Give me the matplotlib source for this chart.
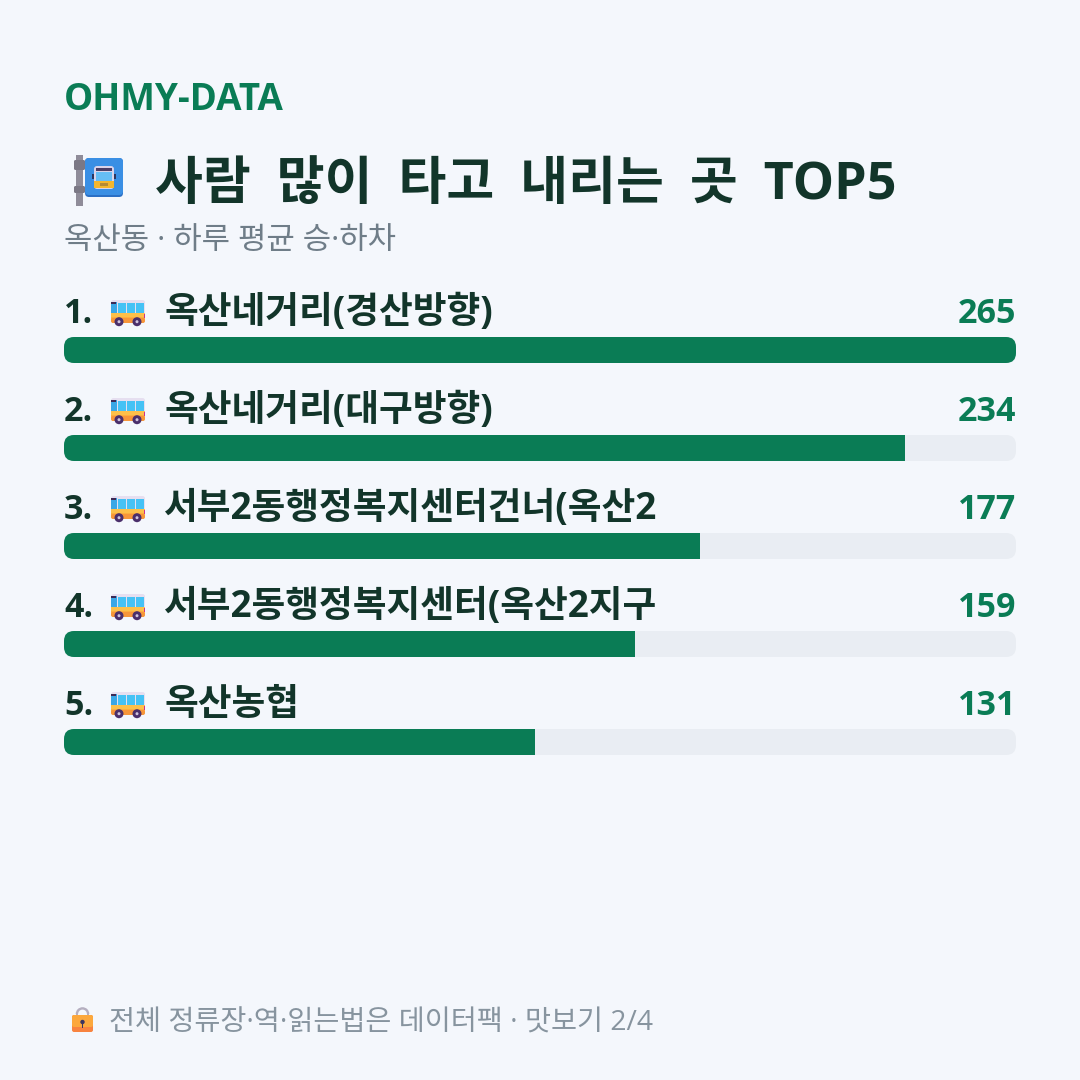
import matplotlib
matplotlib.use("Agg")
import matplotlib.pyplot as plt
from matplotlib.patches import FancyBboxPatch, Circle, Rectangle, Wedge

# data
ranks = ["1.", "2.", "3.", "4.", "5."]
stops = [
    "옥산네거리(경산방향)",
    "옥산네거리(대구방향)",
    "서부2동행정복지센터건너(옥산2",
    "서부2동행정복지센터(옥산2지구",
    "옥산농협",
]
boardings = [265, 234, 177, 159, 131]

brand = "OHMY-DATA"
title = "사람 많이 타고 내리는 곳 TOP5"
subtitle = "옥산동 · 하루 평균 승·하차"
footer = "전체 정류장·역·읽는법은 데이터팩 · 맛보기 2/4"

BG = "#f4f7fc"
GREEN = "#0a7c55"
DARK = "#12352a"
TRACK = "#e9edf3"
GREY = "#6f7d88"
FOOT = "#87949f"
FONTS = ["Open Sans", "Noto Sans CJK KR", "DejaVu Sans"]

plt.rcParams["font.family"] = FONTS


def px(size):
    # font size given in pixels at dpi 100
    return size * 0.72


def rect(ax, x, y, w, h, color, z=5):
    ax.add_patch(Rectangle((x, y), w, h, fc=color, ec="none", zorder=z))


def rbox(ax, x, y, w, h, r, color, z=3):
    p = FancyBboxPatch((x + r, y + r), w - 2 * r, h - 2 * r,
                       boxstyle=f"round,pad={r},rounding_size={r}",
                       fc=color, ec="none", zorder=z)
    ax.add_patch(p)
    return p


def bus_icon(ax, x, y):
    # small side-view bus, x/y = top left corner
    rbox(ax, x, y, 34, 23, 2.5, "#e6dff0", 4)
    rect(ax, x, y + 13, 34, 4, "#fdc04a")
    rect(ax, x, y + 17, 34, 3, "#fcae3e")
    rbox(ax, x, y + 18, 34, 5, 2, "#f7963a", 5)
    rect(ax, x, y + 2, 5.5, 11, "#3aa7e6")
    rect(ax, x, y + 2, 5, 2, "#3d2a55", 6)
    for wx in (x + 7, x + 16, x + 25):
        rect(ax, wx, y + 2.5, 7.5, 10.5, "#45c2f5")
    rect(ax, x + 32.5, y + 14, 1.5, 4, "#d0308a", 6)
    for cx in (x + 8, x + 26):
        ax.add_patch(Circle((cx, y + 21.7), 4.5, fc="#4a2f6b", ec="none", zorder=6))
        ax.add_patch(Circle((cx, y + 21.7), 1.5, fc="#cfc4dd", ec="none", zorder=7))


def stop_icon(ax, x, y):
    # bus stop sign on a pole
    rect(ax, x + 2, y, 7, 51, "#8f8c99", 4)
    rbox(ax, x, y + 5, 11, 10, 1.5, "#7b7885", 5)
    rbox(ax, x, y + 31, 11, 7, 1.5, "#7b7885", 5)
    rbox(ax, x + 11, y + 3, 38, 39, 4, "#2b6fc4", 4)
    rbox(ax, x + 11, y + 3, 38, 37, 4, "#3a8fe4", 4)
    rect(ax, x + 18, y + 19, 2, 5, "#2b3560")
    rect(ax, x + 40, y + 19, 2, 5, "#2b3560")
    rbox(ax, x + 20, y + 11, 20, 23, 3, "#d9d3ea", 5)
    rect(ax, x + 22, y + 13, 16, 3, "#4a3d66", 6)
    rect(ax, x + 22, y + 17, 16, 9, "#66bdf5", 6)
    rect(ax, x + 20, y + 26, 20, 7, "#f3b62e", 6)
    rect(ax, x + 26, y + 28, 8, 3, "#b58a35", 7)


def lock_icon(ax, x, y):
    ax.add_patch(Wedge((x + 10.5, y + 7), 6.8, 180, 360, width=2.4, fc="#b5afc0", ec="none", zorder=4))
    rect(ax, x + 3.7, y + 7, 2.4, 3, "#b5afc0", 4)
    rect(ax, x + 14.9, y + 7, 2.4, 3, "#b5afc0", 4)
    rbox(ax, x, y + 8, 21, 17, 2, "#f8833f", 5)
    rbox(ax, x, y + 8, 21, 12, 2, "#fca83c", 5)
    ax.add_patch(Circle((x + 10.5, y + 15), 2.2, fc="#3b3560", ec="none", zorder=6))
    rect(ax, x + 9.6, y + 15, 1.8, 6, "#3b3560", 6)


fig = plt.figure(figsize=(10.8, 10.8), dpi=100, facecolor=BG)

# pixel-space layer for text and icons
ax = fig.add_axes([0, 0, 1, 1])
ax.set_xlim(0, 1080)
ax.set_ylim(1080, 0)
ax.axis("off")

ax.text(64, 110, brand, color=GREEN, fontsize=px(36.8), fontweight="bold", va="baseline")
stop_icon(ax, 74, 155)
# wider word gaps in the headline
ax.text(155, 199, title.replace(" ", "\u2002"), color=DARK, fontsize=px(52), fontweight="bold", va="baseline")
ax.text(64, 249, subtitle, color=GREY, fontsize=px(30.9), va="baseline")

# bars: one row every 98 px, 26 px tall, starting at y=337
ROW = 98
TOP = 337
BAR_H = 26
bar_ax = fig.add_axes([64 / 1080, 1 - (TOP - 36 + ROW * 5) / 1080, 952 / 1080, ROW * 5 / 1080])
bar_ax.set_xlim(0, max(boardings))
bar_ax.set_ylim(4.5, -0.5)
bar_ax.axis("off")
bar_ax.patch.set_alpha(0)

rows = list(range(len(stops)))
bars = bar_ax.barh(rows, boardings, height=BAR_H / ROW, color=GREEN, zorder=3)

for i, bar in enumerate(bars):
    y = TOP + ROW * i
    track = rbox(ax, 64, y, 952, BAR_H, 10, TRACK, 2)
    bar.set_clip_path(track)
    ax.text(64, y - 14, ranks[i], color=DARK, fontsize=px(34), fontweight="bold", va="baseline")
    bus_icon(ax, 111, y - 37)
    ax.text(164, y - 14, stops[i], color=DARK, fontsize=px(36.7), fontweight="bold", va="baseline")
    ax.text(1016, y - 14, str(boardings[i]), color=GREEN, fontsize=px(34), fontweight="bold",
            va="baseline", ha="right")

lock_icon(ax, 72, 1007)
ax.text(109, 1031, footer, color=FOOT, fontsize=px(28.3), va="baseline")

fig.savefig("out.png", dpi=100, facecolor=BG)
